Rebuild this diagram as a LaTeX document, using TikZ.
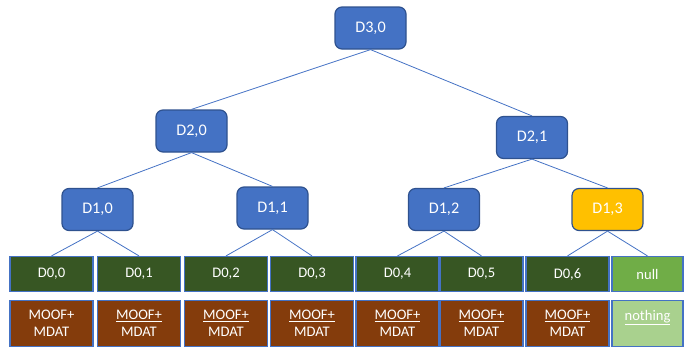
\documentclass[tikz,border=0pt]{standalone}
\usepackage{fontspec}
\setmainfont{Carlito}
\usepackage{tikz}
\definecolor{nodeblue}{HTML}{4472C4}
\definecolor{rimblue}{HTML}{2F528F}
\definecolor{gold}{HTML}{FFC000}
\definecolor{leafgreen}{HTML}{375623}
\definecolor{nullgreen}{HTML}{70AD47}
\definecolor{paleg}{HTML}{A9D18E}
\definecolor{rust}{HTML}{843C0C}
\tikzset{>=latex}
\tikzset{
  inner/.style={draw=rimblue, line width=1.2pt, fill=nodeblue, rounded corners=7pt,
    minimum width=71pt, minimum height=42pt, inner sep=0pt, text=white,
    font=\fontsize{16.2}{19}\selectfont},
  leaf/.style={draw=nodeblue, line width=1.2pt, fill=leafgreen, minimum width=83pt,
    minimum height=35pt, inner sep=0pt, text=white, font=\fontsize{14.6}{17}\selectfont},
  chunk/.style={leaf, fill=rust, minimum height=46pt, align=center,
    font=\fontsize{14.6}{16.5}\selectfont},
  link/.style={draw=nodeblue, line width=0.8pt}
}
\def\ul#1{\underline{#1}}

\begin{document}
\begin{tikzpicture}[x=1pt, y=-1pt]
          \useasboundingbox (0,0) rectangle (684,349);
          \node[inner] (d30) at (370.5,28) {D3,0};
          \node[inner] (d20) at (191.5,131) {D2,0};
          \node[inner] (d21) at (532,137.5) {D2,1};
          \node[inner] (d10) at (97.5,209.5) {D1,0};
          \node[inner] (d11) at (272.5,208) {D1,1};
          \node[inner] (d12) at (444,209.5) {D1,2};
          \node[inner, fill=gold] (d13) at (607.5,209.5) {D1,3};

          \node[leaf] (d00) at (51.5,274) {D0,0};
          \node[leaf] (d01) at (139,274) {D0,1};
          \node[leaf] (d02) at (226,274) {D0,2};
          \node[leaf] (d03) at (312,274) {D0,3};
          \node[leaf] (d04) at (397.5,274) {D0,4};
          \node[leaf] (d05) at (481.5,274) {D0,5};
          \node[leaf] (d06) at (567.5,274) {D0,6};
          \node[leaf, fill=nullgreen, minimum width=71pt] (dnull) at (647.5,274) {null};

          \node[chunk] (m00) at (51.5,323.5) {MOOF+\\MDAT};
          \node[chunk] (m01) at (139,323.5) {\ul{MOOF+}\\MDAT};
          \node[chunk] (m02) at (226,323.5) {\ul{MOOF+}\\MDAT};
          \node[chunk] (m03) at (312,323.5) {\ul{MOOF+}\\MDAT};
          \node[chunk] (m04) at (397.5,323.5) {\ul{MOOF+}\\MDAT};
          \node[chunk] (m05) at (481.5,323.5) {\ul{MOOF+}\\MDAT};
          \node[chunk] (m06) at (567.5,323.5) {\ul{MOOF+}\\MDAT};
          \node[chunk, fill=paleg, minimum width=71pt] (mnull) at (647.5,323.5) {\ul{nothing}\\\mbox{}};

          \path[link] (d30.south) edge (d20.north);
          \path[link] (d30.south) edge (d21.north);
          \path[link] (d20.south) edge (d10.north);
          \path[link] (d20.south) edge (d11.north);
          \path[link] (d21.south) edge (d12.north);
          \path[link] (d21.south) edge (d13.north);
          \path[link] (d10.south) edge (d00.north);
          \path[link] (d10.south) edge (d01.north);
          \path[link] (d11.south) edge (d02.north);
          \path[link] (d11.south) edge (d03.north);
          \path[link] (d12.south) edge (d04.north);
          \path[link] (d12.south) edge (d05.north);
          \path[link] (d13.south) edge (d06.north);
          \path[link] (d13.south) edge (dnull.north);
        \end{tikzpicture}
\end{document}
